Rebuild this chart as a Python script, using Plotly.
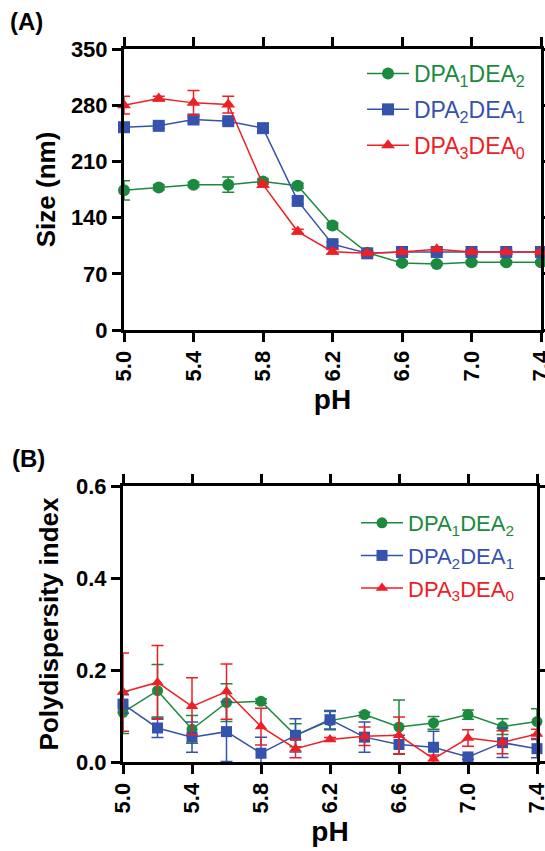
import plotly.graph_objects as go

# ---------------- data ----------------
ph = [5.0, 5.2, 5.4, 5.6, 5.8, 6.0, 6.2, 6.4, 6.6, 6.8, 7.0, 7.2, 7.4]

series_names = ["DPA<sub>1</sub>DEA<sub>2</sub>",
                "DPA<sub>2</sub>DEA<sub>1</sub>",
                "DPA<sub>3</sub>DEA<sub>0</sub>"]

# (A) hydrodynamic size (nm)
size_d1 = [174, 177.6, 181, 181, 185, 179.7, 130.2, 96.3, 83.6, 82.3, 84.4, 84.4, 84.4]
size_d1_err = [12, 3, 3, 9.5, 3, 3, 3, 2, 2, 2, 2, 2, 2]
size_d2 = [252.6, 254.3, 262.2, 260.1, 251.4, 160.8, 106.9, 95.5, 97.2, 97.2, 97.2, 97.2, 97.2]
size_d2_err = [3, 3, 3, 3, 3, 4, 3, 2, 2, 2, 2, 2, 2]
size_d3 = [280, 288.3, 282.9, 280.8, 181, 122.6, 97.6, 95.5, 97, 100.5, 97, 97, 97]
size_d3_err = [11, 3, 15.4, 10.4, 3, 3, 3, 2, 2, 2, 2, 2, 2]

# (B) polydispersity index
pdi_d1 = [0.108, 0.155, 0.071, 0.129, 0.132, 0.058, 0.090, 0.103, 0.076, 0.085, 0.103, 0.077, 0.088]
pdi_d1_err = [0.046, 0.057, 0.030, 0.041, 0.005, 0.025, 0.020, 0.005, 0.059, 0.014, 0.010, 0.017, 0.028]
pdi_d2 = [0.126, 0.074, 0.054, 0.066, 0.019, 0.058, 0.092, 0.054, 0.038, 0.032, 0.011, 0.042, 0.029]
pdi_d2_err = [0.020, 0.021, 0.033, 0.065, 0.035, 0.036, 0.020, 0.033, 0.020, 0.035, 0.005, 0.032, 0.020]
pdi_d3 = [0.152, 0.173, 0.121, 0.153, 0.077, 0.029, 0.049, 0.056, 0.058, 0.007, 0.052, 0.043, 0.061]
pdi_d3_err = [0.085, 0.080, 0.062, 0.060, 0.040, 0.020, 0.004, 0.020, 0.040, 0.008, 0.018, 0.025, 0.010]

x_ticks = [5.0, 5.4, 5.8, 6.2, 6.6, 7.0, 7.4]
size_ticks = [0, 70, 140, 210, 280, 350]
pdi_ticks = [0.0, 0.2, 0.4, 0.6]

# ---------------- style ----------------
colors = ["#1b8a3e", "#3552ad", "#ee2026"]
symbols = ["circle", "square", "triangle-up"]
FONT = "Liberation Sans, Arial, Helvetica, sans-serif"

fig = go.Figure()

top = [(size_d1, size_d1_err), (size_d2, size_d2_err), (size_d3, size_d3_err)]
bot = [(pdi_d1, pdi_d1_err), (pdi_d2, pdi_d2_err), (pdi_d3, pdi_d3_err)]

for i in range(3):
    label = f'<span style="color:{colors[i]}">{series_names[i]}</span>'
    y, e = top[i]
    fig.add_trace(go.Scatter(
        x=ph, y=y, mode="lines+markers", name=label, legendgroup=f"a{i}",
        line=dict(color=colors[i], width=1.5),
        marker=dict(symbol=symbols[i], size=12, color=colors[i]),
        error_y=dict(type="data", array=e, color=colors[i], thickness=1.5, width=6),
        cliponaxis=False, xaxis="x", yaxis="y", legend="legend"))
for i in range(3):
    label = f'<span style="color:{colors[i]}">{series_names[i]}</span>'
    y, e = bot[i]
    fig.add_trace(go.Scatter(
        x=ph, y=y, mode="lines+markers", name=label, legendgroup=f"b{i}",
        line=dict(color=colors[i], width=1.5),
        marker=dict(symbol=symbols[i], size=11, color=colors[i]),
        error_y=dict(type="data", array=e, color=colors[i], thickness=1.5, width=6),
        cliponaxis=False, xaxis="x2", yaxis="y2", legend="legend2"))

axis_common = dict(showline=True, linewidth=3, linecolor="black", mirror="ticks",
                   ticks="outside", ticklen=9, tickwidth=3, tickcolor="black",
                   showgrid=False, zeroline=False, automargin=False,
                   tickfont=dict(family=FONT, size=22, color="black", weight="bold"),
                   title_font=dict(family=FONT, size=26, color="black", weight="bold"))

L, R = 123, 545
W = R - L
fig.update_layout(
    width=545, height=851,
    margin=dict(l=L, r=545 - R, t=49, b=89),
    paper_bgcolor="white", plot_bgcolor="white",
    font=dict(family=FONT, color="black"),
    xaxis=dict(axis_common, domain=[(124 - L) / W, (541 - L) / W], anchor="y",
               range=[5.0, 7.4], tickvals=x_ticks, tickformat=".1f", tickangle=-90,
               ticklabeloverflow="allow",
               title=dict(text="pH", standoff=10, font=dict(size=28))),
    yaxis=dict(axis_common, domain=[(762 - 330) / 713, 1.0], anchor="x",
               range=[0, 350], tickvals=size_ticks,
               title=dict(text="Size (nm)", standoff=8)),
    xaxis2=dict(axis_common, domain=[0, (537 - L) / W], anchor="y2",
                range=[5.0, 7.4], tickvals=x_ticks, tickformat=".1f", tickangle=-90,
                ticklabeloverflow="allow",
                title=dict(text="pH", standoff=10, font=dict(size=28))),
    yaxis2=dict(axis_common, domain=[0, (762 - 486) / 713], anchor="x2",
                range=[0, 0.6], tickvals=pdi_ticks, tickformat=".1f",
                title=dict(text="Polydispersity index", standoff=10)),
    legend=dict(x=(362 - L) / W, y=(762 - 52) / 713, xanchor="left", yanchor="top",
                bgcolor="rgba(0,0,0,0)", font=dict(family=FONT, size=23),
                itemwidth=42, tracegroupgap=3),
    legend2=dict(x=(356 - L) / W, y=(762 - 502) / 713, xanchor="left", yanchor="top",
                 bgcolor="rgba(0,0,0,0)", font=dict(family=FONT, size=22),
                 itemwidth=42, tracegroupgap=1),
)

for txt, px, py in [("(A)", 8, 22), ("(B)", 10, 458)]:
    fig.add_annotation(text=txt, x=(px - L) / W, y=(762 - py) / 713,
                       xref="paper", yref="paper", xanchor="left", yanchor="middle",
                       showarrow=False,
                       font=dict(family=FONT, size=24, color="black", weight="bold"))

fig.write_html("out.html", config={"displayModeBar": False},
               post_script="document.body.style.margin='0';")
